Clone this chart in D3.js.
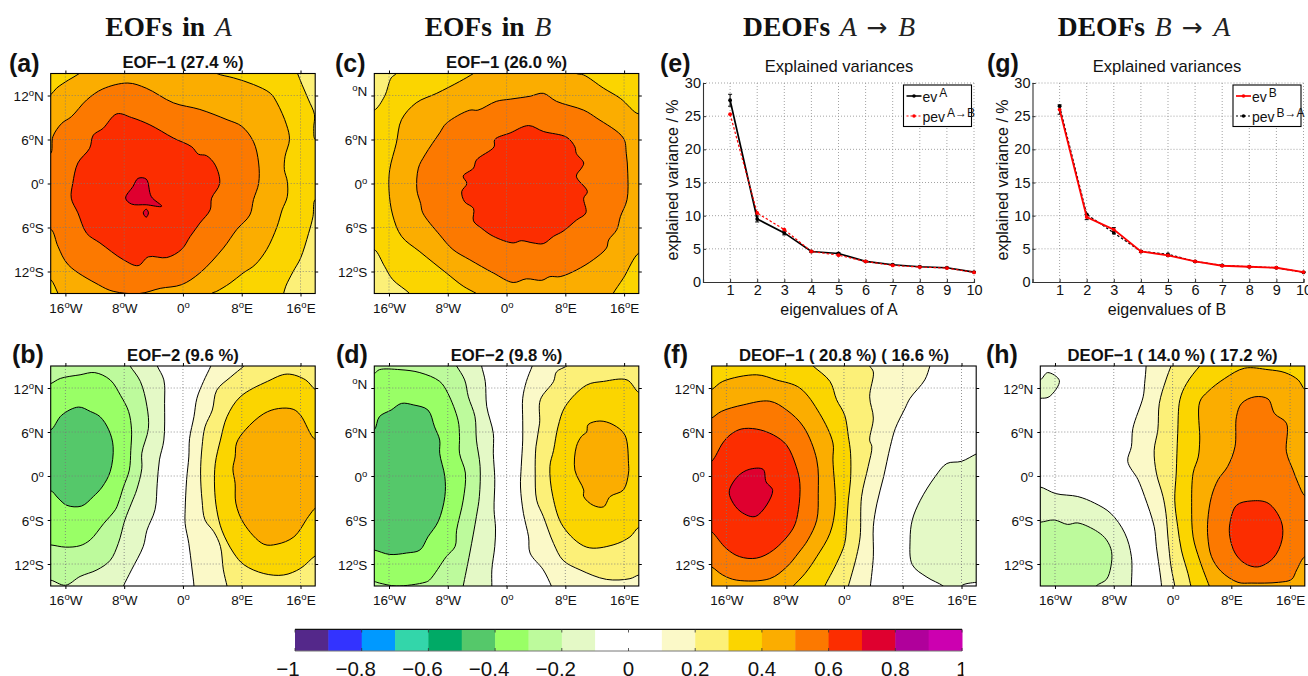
<!DOCTYPE html>
<html><head><meta charset="utf-8">
<script src="https://d3js.org/d3.v7.min.js"></script>
<style>
html,body{margin:0;padding:0;background:#fff;overflow:hidden}
text{font-family:"Liberation Sans",Arial,sans-serif;fill:#111}
.big{font-family:"Liberation Serif",serif;font-weight:bold;font-size:27.5px;word-spacing:3px}
.big .m{font-weight:normal;font-style:italic;fill:#222}
.big .a{font-weight:normal;fill:#222;font-family:"DejaVu Sans",sans-serif;font-size:25px}
</style></head><body><svg id="c" width="1308" height="676"></svg>
<script>
// ---- colour scale (bins of 0.1 from -1 to 1)
const binColors=["#54288a","#3333ff","#0099ff","#33d6aa","#00aa66","#55c86a","#99ff66","#bdfa9c","#e4f9c6","#ffffff","#ffffff","#fbf9c8","#fcf078","#fbd500","#fbad00","#fc7900","#fc2d00","#df002f","#b0009b","#cc00b0"];
const colorTicks=[-1,-0.8,-0.6,-0.4,-0.2,0,0.2,0.4,0.6,0.8,1];
const lonTicks=[-16,-8,0,8,16];
const latTicks=[12,6,0,-6,-12];
const latLabels=[["12","N"],["6","N"],["0",""],["6","S"],["12","S"]];
const latLabelsCut=[["","N"],["6","N"],["0",""],["6","S"],["12","S"]];

// ---- explained variances
const eigen=[1,2,3,4,5,6,7,8,9,10];
const evA=[27.4,9.5,7.4,4.6,4.3,3.1,2.6,2.3,2.15,1.5];
const evAerr=[0.9,0.45,0.3,0.15,0.12,0.1,0.08,0.07,0.06,0.05];
const pevAB=[25.3,10.4,7.9,4.6,4.05,3.1,2.5,2.25,2.1,1.45];
const evB=[26,9.8,7.9,4.6,4.0,3.1,2.45,2.3,2.15,1.5];
const evBerr=[0.7,0.4,0.3,0.15,0.12,0.1,0.08,0.07,0.06,0.05];
const pevBA=[26.5,10.2,7.4,4.6,4.2,3.1,2.5,2.3,2.15,1.45];

// ---- contour bands: [value inside band, ring of [lon,lat]]
const contoursA=[
[0.25,[[15.2,16],[15.6,15],[16.2,13.5],[17.1,11.4],[17.9,9.4],[17.8,7.5],[18,6],[19,6],[19,16]]],
[0.25,[[18,-2.2],[17.7,-4.5],[17.1,-6.8],[16,-10.2],[15,-12],[14,-14],[13.7,-15],[13.4,-16],[19,-16],[19,-2.2]]],
[0.45,[[-13,16],[-14.1,15],[-15.6,14.1],[-17.2,13],[-18,12.1],[-19,11.5],[-19,-12.7],[-18,-13.1],[-17,-15],[-16.5,-16],[3.4,-16],[3.9,-15],[4.6,-14.7],[6.4,-13.6],[8.2,-12.2],[9.8,-11.1],[11.4,-9],[12.8,-5.9],[13.5,-3.6],[14.2,-1.8],[14.2,0.3],[13.8,1.9],[13.9,3.7],[14.5,6],[14.1,8],[12.8,11],[11.9,12.3],[9.6,13.5],[6.9,14.4],[4.6,15],[3,16]]],
[0.55,[[-18,4.1],[-17.7,6.4],[-16.5,8.2],[-15.2,9.1],[-13.1,11.4],[-10.9,12.9],[-7.5,13.7],[-5,13],[-1.3,11],[2.3,10.1],[6,8.7],[8,7.8],[9.6,5.7],[10.3,2.8],[10.3,0],[9.6,-2.2],[9.1,-4.3],[7.3,-6.3],[5.5,-8.8],[2.3,-12.2],[-0.2,-13.8],[-3.1,-14.3],[-5.9,-15],[-9.5,-14.7],[-11.5,-13.8],[-15.6,-11.1],[-17,-8.6],[-17.9,-6.3],[-19,-6],[-19,4]]],
[0.65,[[-15,0],[-14.3,2.8],[-12.7,4.8],[-12.2,6.6],[-10.9,7.5],[-9,9.5],[-7,9],[-4.5,8],[-1.3,6.2],[1.2,5],[2.1,4],[3.2,3.8],[4.4,2.5],[5,0],[3.9,-2],[3.7,-3.6],[2.3,-5.4],[1,-7.2],[-0.2,-9],[-2.2,-10.1],[-4.7,-10],[-6.1,-11.2],[-8.1,-10.4],[-11.3,-8.1],[-13.1,-6.8],[-14.3,-4],[-15.2,-2]]],
[0.75,[[-7.8,-2],[-6.8,-0.4],[-6.1,0.7],[-5,0.6],[-4.3,-1.8],[-2.9,-3.1],[-5,-2.9],[-7,-2.8]]],
[0.75,[[-5,-3.5],[-4.7,-4],[-5,-4.6],[-5.4,-4]]]];

const contoursB=[
[-0.15,[[-3.5,15],[-2.6,13.1],[-2.5,9.9],[-2.6,4.9],[-3.2,2.2],[-3.5,-1],[-3.8,-4.6],[-4.9,-7.4],[-5.4,-9.6],[-7,-12.8],[-8.1,-15],[-8.5,-16],[-19,-16],[-19,16],[-3.9,16]]],
[-0.25,[[-7.2,15],[-5.8,12.9],[-4.9,9.5],[-4.7,6.5],[-5.6,3.1],[-5.6,1],[-6.3,-1.9],[-7,-3.7],[-7.9,-6],[-8.8,-9.2],[-9.9,-11.5],[-11.7,-12.8],[-14,-13.7],[-16,-14.9],[-18,-14.2],[-19,-14.2],[-19,16],[-7.8,16]]],
[-0.35,[[-18,12.6],[-16.7,13.3],[-14,13.8],[-12,14.1],[-9.9,13.1],[-8.5,11],[-7.4,8.8],[-7,6.3],[-7.1,3.5],[-7.3,0.8],[-8.1,-1.5],[-8.8,-3.7],[-9.2,-4.6],[-10.8,-6.5],[-12.6,-8.7],[-14,-9.5],[-16,-9.7],[-18,-9.4],[-19,-9.4],[-19,12.4]]],
[-0.45,[[-18,6.3],[-16.5,8.3],[-14.2,9.4],[-12.6,8.8],[-11.3,8.1],[-10.1,6.3],[-9.5,4],[-9.9,0.6],[-11,-1.5],[-12.2,-2.8],[-13.8,-4.1],[-15.8,-4],[-17,-3],[-18,-2],[-19,-2.3],[-19,6.5]]],
[0.15,[[3.8,15],[2.8,12.9],[1.9,10.6],[1.5,8.1],[0.9,5.1],[0.8,2.6],[0.5,-0.5],[0.3,-4.6],[0.3,-6.5],[0.8,-9.2],[1.2,-12.4],[1.5,-15],[1.5,-16],[19,-16],[19,16],[4.2,16]]],
[0.25,[[8.3,15],[6.5,13.5],[4.6,11.7],[4,9],[3,6.7],[2.6,4],[2.4,0.4],[2.6,-3.3],[3,-6],[4.2,-7.6],[5.1,-9.6],[5.5,-12.8],[6,-15],[6.2,-16],[19,-16],[19,16],[9.3,16]]],
[0.35,[[18,11.8],[16.7,13.1],[14.2,13.9],[11.5,12.9],[7.8,10.8],[6,8.1],[5.1,4.9],[4.4,1.7],[4.3,-1.5],[4.6,-4.6],[5.3,-7.4],[6.9,-10.5],[8.3,-12.1],[11,-13.3],[13.7,-13.5],[16,-12.6],[18,-10.9],[19,-10.5],[19,11.5]]],
[0.45,[[18,5],[16,8.3],[15,9.1],[13,9.2],[11,8.5],[8.5,6.3],[7.3,4.5],[7.1,2.6],[6.8,1],[7.1,-1],[7.2,-3.7],[8.3,-6.5],[11,-9.3],[12.8,-9.3],[15.1,-8.3],[17.1,-5.5],[18,-4.4],[19,-4],[19,5.4]]]];

const contoursC=[
[0.25,[[-18,10],[-16.6,11.9],[-15.7,14.4],[-15,15],[-14.5,16],[-19,16],[-19,10]]],
[0.25,[[-18,-9],[-16.6,-11.3],[-15.5,-13.1],[-13.2,-15],[-12.5,-16],[-19,-16],[-19,-9]]],
[0.45,[[-4.5,15],[-6.4,13.9],[-9.5,12.3],[-12.3,11],[-14.3,8.7],[-15,5.5],[-15.9,1.9],[-16,-0.9],[-15.5,-4.3],[-14.3,-7.2],[-11.8,-9.3],[-8.2,-12.2],[-5.9,-14],[-4.1,-15],[-2.5,-16],[14,-16],[14.5,-15],[15.9,-12.9],[18,-9.5],[19,-9.5],[19,10.2],[18,9.5],[15.5,11.6],[13.2,13],[10.5,14.8],[9.5,15],[8,16],[-3,16]]],
[0.55,[[5,12.3],[6.8,11.2],[10.5,10],[12.3,8.9],[15.9,6.2],[16.3,4.1],[16.5,1.4],[16.4,-2.2],[15.5,-4.5],[15,-6.3],[13.9,-7.7],[13.6,-8.8],[11.8,-10.4],[9.5,-11.8],[7.3,-12.7],[5.9,-12.7],[4.8,-13.2],[2.7,-13],[0.9,-13.5],[-1.8,-12.2],[-5,-10.4],[-7.3,-9],[-9.1,-7],[-11.4,-4],[-11.7,-2.7],[-12.2,-0.9],[-12,2.1],[-11.1,3.9],[-9.1,6.9],[-8.2,8.2],[-5,10],[-3.9,10],[-1.4,11.2],[0.5,11.5],[3.2,11.9]]],
[0.65,[[-1.6,6],[0.5,6.9],[3,7.9],[5,7.1],[8.2,6.3],[9.3,5],[9.5,4.1],[10.5,2.8],[10.2,2.1],[9.5,1],[11,-1.1],[10.5,-2],[10.8,-4],[9.5,-5],[7.7,-6.5],[6.4,-7.2],[5,-8.2],[3.6,-8.1],[2,-7.8],[0.9,-8.1],[-1.8,-7.2],[-3.4,-6.1],[-4.5,-5.1],[-4.5,-3.4],[-5.7,-2.5],[-6.1,-1.1],[-5.4,0],[-5.9,1],[-4.5,2.1],[-4.1,3.2],[-1.7,5]]]];

const contoursD=[
[-0.15,[[-3.4,15],[-2.9,12.9],[-2.7,9.5],[-1.8,5.8],[-1.8,3.1],[-1.6,-0.5],[-1.7,-4.6],[-1.5,-7.1],[-1.6,-9.6],[-2,-12.8],[-2,-15],[-2,-16],[-19,-16],[-19,16],[-3.6,16]]],
[-0.25,[[-6.8,15],[-5.7,13.1],[-5.2,10.8],[-4.3,8.1],[-4.1,4.9],[-3.6,1.3],[-3.7,-2.8],[-4.1,-5.5],[-5,-10.5],[-5.9,-15],[-6.1,-16],[-19,-16],[-19,16],[-7.4,16]]],
[-0.35,[[-18,14],[-17.3,14.5],[-14.5,14.5],[-11.8,14.1],[-9.1,12.9],[-8,11.3],[-6.6,7.6],[-6.4,5.4],[-6.4,3.1],[-5.6,0.4],[-5.9,-3.3],[-6.8,-7.4],[-7,-9.6],[-8.2,-11],[-10.5,-14.2],[-11.1,-14.5],[-15,-15],[-17.3,-14.6],[-18,-14.4],[-19,-14.4],[-19,14]]],
[-0.45,[[-18,6.3],[-17.3,8.1],[-15.7,9],[-14.3,9.9],[-12.7,9.7],[-10.7,9],[-9.8,6.7],[-9.1,4.9],[-9.1,3.1],[-8.4,-0.1],[-8.4,-2.8],[-9.3,-6.2],[-10.7,-8.3],[-11.8,-10.1],[-13.6,-10.5],[-15.9,-10.7],[-18,-10.1],[-19,-10],[-19,6]]],
[0.15,[[3.5,15],[2.7,12.9],[2.2,10.6],[2.2,7.6],[2.2,4.9],[2,1.3],[1.9,-1.5],[2.3,-5.1],[3,-8.3],[3.2,-10.5],[5,-12.8],[6.1,-15],[6.5,-16],[19,-16],[19,16],[3.9,16]]],
[0.25,[[8.2,15],[6.8,14.2],[6.4,12.9],[4.6,10.4],[4.5,7.2],[4,4],[3.9,0.4],[4.1,-3.3],[5,-5.5],[6.4,-9.2],[7.7,-11.5],[10,-12.8],[13.6,-14.1],[16.8,-14],[18,-13.5],[19,-13.5],[19,16],[9.5,16]]],
[0.35,[[18,11.4],[16.4,13.1],[13.2,12.9],[10.9,12.4],[8,9.5],[7,6.7],[6.4,3.5],[5.9,1.3],[6.3,-2.8],[7.7,-6.9],[10.9,-9.7],[14.5,-9.4],[16.8,-8.3],[18,-7],[19,-7],[19,11.4]]],
[0.45,[[11.1,7],[12.7,7.5],[14.5,7],[16.1,5.6],[16.6,1.7],[16.6,0.4],[15.9,-1.9],[14.1,-2.8],[13.2,-4.2],[11.8,-4],[10.5,-2.8],[10.5,-1.9],[9.3,0.8],[9.5,4],[10.2,5.4],[10.9,6]]]];

const contoursF=[
[0.15,[[11.7,15],[11,13.1],[9,10.6],[8.3,9.2],[7,6.5],[6.3,4],[5.4,-0.1],[4.5,-3.7],[4,-6.9],[4,-11],[3.6,-15],[3.5,-16],[-19,-16],[-19,16],[12,16]]],
[0.25,[[3.5,15],[4,14.2],[3.5,10.8],[4,7.9],[3.5,4.9],[3.8,4],[3.3,1.3],[2.4,-2.8],[2.2,-8.3],[1.7,-11],[0.6,-15],[0.3,-16],[-19,-16],[-19,16],[3,16]]],
[0.35,[[-4.2,15],[-1.9,12.9],[-1,10.4],[0.1,8.3],[0.6,5.4],[0.9,3.1],[0.9,-0.5],[0.6,-3.3],[0.4,-6],[0.1,-9.2],[-1,-11.9],[-2.6,-15],[-3,-16],[-19,-16],[-19,16],[-5.2,16]]],
[0.45,[[-18,11.8],[-16.5,12.9],[-11.9,13.8],[-9.2,13.1],[-6,12],[-3.3,8.5],[-1.5,4.5],[-1.5,2.2],[-1.2,-4.2],[-1.9,-7.8],[-3.7,-11],[-5.3,-13.3],[-6.9,-15],[-7.8,-16],[-19,-16],[-19,11.5]]],
[0.55,[[-18,7.9],[-16.7,8.8],[-13.7,9.7],[-10.1,10.2],[-7.8,9],[-5.5,6.7],[-3.7,2.2],[-3.5,-2.4],[-3.7,-6],[-4.9,-8.7],[-6.2,-10.5],[-7.8,-12.4],[-10.1,-14],[-14.6,-14.2],[-16.5,-13.5],[-18,-12.4],[-19,-12],[-19,7.5]]],
[0.65,[[-18,2],[-16.5,4.5],[-15.5,5.6],[-14,6.4],[-11.9,6.4],[-9.6,5.6],[-7.8,4.2],[-6.5,1.3],[-6,-1],[-6.2,-4.6],[-6.9,-7.1],[-9.6,-10.1],[-11.9,-11.2],[-14.2,-11],[-16,-9.9],[-18,-7.6],[-19,-7],[-19,1.5]]],
[0.75,[[-15.6,-2],[-14.4,0],[-12.9,0.9],[-11,0.9],[-10.6,-0.8],[-9.7,-2],[-12,-5.5],[-14,-4.9],[-15.3,-3.3]]],
[-0.15,[[18,3],[16,2],[14,1.7],[12.4,-0.1],[10.4,-3.3],[9.3,-6],[9,-8.7],[9.3,-12.1],[11.3,-13.8],[13.5,-15],[14.5,-16],[16,-16],[16,-15],[18,-14.5],[19,-14.5],[19,3.4]]]];

const contoursH=[
[-0.15,[[-18,13.1],[-17,14.1],[-15.4,13],[-16.8,10.8],[-18,10.6],[-19,10.6],[-19,13]]],
[-0.15,[[-18,-1.5],[-15.9,-2.4],[-12.9,-2.8],[-10.6,-3.7],[-8.4,-5.1],[-6.5,-7.8],[-5.6,-11],[-5.6,-15],[-5.6,-16],[-19,-16],[-19,-1.5]]],
[-0.25,[[-18,-6.3],[-16.1,-6],[-14.3,-6.6],[-12.9,-6.4],[-10.2,-7.6],[-9,-8.7],[-8.3,-10.3],[-8.4,-12.4],[-9,-14.1],[-10.4,-15],[-11,-16],[-19,-16],[-19,-6.3]]],
[0.15,[[-3.6,15],[-3.8,12.6],[-4,10.8],[-5.4,6.5],[-5.6,4],[-6.1,2],[-4.7,-0.5],[-3.8,-2.8],[-2.5,-6.9],[-2.2,-9.6],[-1.5,-15],[-1.5,-16],[19,-16],[19,16],[-3.6,16]]],
[0.25,[[-0.2,15],[-0.9,13.1],[-1.8,9.9],[-2,6.3],[-2.5,3.5],[-2.2,0.4],[-1.3,-2.8],[-0.9,-5.1],[-0.6,-8.7],[-0.2,-12.4],[0.3,-15],[0.4,-16],[19,-16],[19,16],[0.2,16]]],
[0.35,[[3.7,15],[1.9,12.6],[1,10.4],[0.7,5.8],[0.5,0.4],[0.3,-3.3],[0.7,-6.9],[1.2,-10.1],[2.1,-13.3],[2.5,-15],[2.8,-16],[19,-16],[19,16],[4.7,16]]],
[0.45,[[18,11.8],[17.1,13.1],[15.3,14.1],[13,14.5],[9.8,14.7],[7.1,13.3],[4.8,11.5],[3.7,10.1],[3.7,4.9],[3.5,2.6],[2.8,0.4],[2.6,-4.2],[2.8,-8.3],[3.7,-11.5],[5,-15],[5.4,-16],[19,-16],[19,11.5]]],
[0.55,[[11.2,10.8],[13,10.5],[13.9,8.5],[15.5,7.2],[15.5,3.3],[16.4,0.8],[17.1,-1],[18,-2.7],[19,-3],[19,-11],[18,-11],[16.9,-12.8],[16.2,-14.1],[14.4,-14.5],[10.7,-14.6],[8.9,-14.5],[6.6,-13],[5.3,-11],[4.8,-8.3],[4.8,-6],[5.3,-2.8],[6.2,-0.5],[7.5,1.3],[8.5,4],[8.7,8.1],[9.4,9.9]]],
[0.65,[[7.8,-6.5],[8.7,-4],[10.7,-3.4],[13,-3.7],[14.8,-6.2],[14.9,-8.7],[13.7,-11.2],[11.6,-12.4],[9.8,-11.9],[8.5,-10.5],[7.8,-8.3]]]];

const svg=d3.select("#c");
const color=d3.scaleQuantize().domain([-1,1]).range(binColors);

function bigTitle(cx,parts){
  const t=svg.append("text").attr("class","big").attr("x",cx).attr("y",36).attr("text-anchor","middle");
  parts.forEach(p=>t.append("tspan").attr("class",p[1]).attr("xml:space","preserve").text(p[0]));
}
bigTitle(168.5,[["EOFs in ",""],["A","m"]]);
bigTitle(488,[["EOFs in ",""],["B","m"]]);
bigTitle(829,[["DEOFs ",""],["A ","m"],["\u2192 ","a"],["B","m"]]);
bigTitle(1144,[["DEOFs ",""],["B ","m"],["\u2192 ","a"],["A","m"]]);

function panelLabel(x,y,s){
  svg.append("text").attr("x",x).attr("y",y).attr("font-size",25).attr("font-weight","bold").text(s);
}
function degLabel(sel,num,suf){
  sel.text(null);
  if(num!=="") sel.append("tspan").text(num);
  sel.append("tspan").attr("dy",-5).attr("font-size",9.5).text("o");
  if(suf) sel.append("tspan").attr("dy",5).text(suf);
}
let clipId=0;
function mapPanel(o){
  const x=d3.scaleLinear().domain([-18,18]).range([o.x0,o.x0+264.5]);
  const y=d3.scaleLinear().domain([-15,15]).range([o.y0+220,o.y0]);
  const g=svg.append("g");
  const id="clip"+(clipId++);
  g.append("clipPath").attr("id",id).append("rect").attr("x",o.x0).attr("y",o.y0).attr("width",264.5).attr("height",220);
  const inner=g.append("g").attr("clip-path",`url(#${id})`);
  inner.append("rect").attr("x",o.x0).attr("y",o.y0).attr("width",264.5).attr("height",220).attr("fill",color(o.base));
  const line=d3.line().x(d=>x(d[0])).y(d=>y(d[1])).curve(d3.curveCatmullRomClosed.alpha(0.5));
  inner.selectAll("path.b").data(o.bands).join("path").attr("class","b")
    .attr("d",d=>line(d[1])).attr("fill",d=>color(d[0])).attr("stroke","#000").attr("stroke-width",1);
  inner.selectAll("line.gx").data(lonTicks).join("line").attr("class","gx")
    .attr("x1",d=>x(d)).attr("x2",d=>x(d)).attr("y1",o.y0).attr("y2",o.y0+220)
    .attr("stroke","#7a7a7a").attr("stroke-width",0.8).attr("stroke-dasharray","1,2");
  inner.selectAll("line.gy").data(latTicks).join("line").attr("class","gy")
    .attr("y1",d=>y(d)).attr("y2",d=>y(d)).attr("x1",o.x0).attr("x2",o.x0+264.5)
    .attr("stroke","#7a7a7a").attr("stroke-width",0.8).attr("stroke-dasharray","1,2");
  g.append("rect").attr("x",o.x0).attr("y",o.y0).attr("width",264.5).attr("height",220)
    .attr("fill","none").attr("stroke","#000").attr("stroke-width",1.1);
  // axes
  const ax=g.append("g").attr("transform",`translate(0,${o.y0+220})`)
    .call(d3.axisBottom(x).tickValues(lonTicks).tickSize(3).tickPadding(3));
  ax.select(".domain").remove();
  ax.selectAll("text").attr("font-size",13.5).attr("font-family","Liberation Sans").attr("fill","#111").attr("dy",13)
    .each(function(d){degLabel(d3.select(this),Math.abs(d),d<0?"W":d>0?"E":"");});
  const ay=g.append("g").attr("transform",`translate(${o.x0},0)`)
    .call(d3.axisLeft(y).tickValues(latTicks).tickSize(3).tickPadding(4));
  ay.select(".domain").remove();
  ay.selectAll("text").attr("font-size",13.5).attr("font-family","Liberation Sans").attr("fill","#111").attr("dy",5)
    .each(function(d,i){degLabel(d3.select(this),o.latLabels[i][0],o.latLabels[i][1]);});
  const top=g.append("g").attr("transform",`translate(0,${o.y0})`).call(d3.axisTop(x).tickValues(lonTicks).tickSize(3).tickFormat(""));
  top.select(".domain").remove();
  const right=g.append("g").attr("transform",`translate(${o.x0+264.5},0)`).call(d3.axisRight(y).tickValues(latTicks).tickSize(3).tickFormat(""));
  right.select(".domain").remove();
  svg.append("text").attr("x",x(0)).attr("y",o.ty).attr("text-anchor","middle")
    .attr("font-size",16.7).attr("font-weight","bold").text(o.title);
}
const rowTop=73.5,rowBot=366;
mapPanel({x0:50.7,y0:rowTop,ty:68,bands:contoursA,base:0.35,title:"EOF\u22121 (27.4 %)",latLabels});
mapPanel({x0:50.7,y0:rowBot,ty:361,bands:contoursB,base:0,title:"EOF\u22122 (9.6 %)",latLabels});
mapPanel({x0:374.3,y0:rowTop,ty:68,bands:contoursC,base:0.35,title:"EOF\u22121 (26.0 %)",latLabels:latLabelsCut});
mapPanel({x0:374.3,y0:rowBot,ty:361,bands:contoursD,base:0,title:"EOF\u22122 (9.8 %)",latLabels:latLabelsCut});
mapPanel({x0:711.7,y0:rowBot,ty:361,bands:contoursF,base:0,title:"DEOF\u22121 ( 20.8 %) ( 16.6 %)",latLabels});
mapPanel({x0:1040.3,y0:rowBot,ty:361,bands:contoursH,base:0,title:"DEOF\u22121 ( 14.0 %) ( 17.2 %)",latLabels});

panelLabel(9,72,"(a)");panelLabel(12,363,"(b)");panelLabel(335,72,"(c)");panelLabel(336,363,"(d)");
panelLabel(660,72,"(e)");panelLabel(663,363,"(f)");panelLabel(987,72,"(g)");panelLabel(986,363,"(h)");

function varPanel(o){
  const x=d3.scaleLinear().domain([0,10]).range([o.x0,o.x0+271]);
  const y=d3.scaleLinear().domain([0,30]).range([282,83]);
  const g=svg.append("g");
  g.append("g").selectAll("line").data(eigen).join("line")
    .attr("x1",d=>x(d)).attr("x2",d=>x(d)).attr("y1",83).attr("y2",282)
    .attr("stroke","#999").attr("stroke-width",0.9).attr("stroke-dasharray","1,2");
  g.append("g").selectAll("line").data([5,10,15,20,25,30]).join("line")
    .attr("y1",d=>y(d)).attr("y2",d=>y(d)).attr("x1",o.x0).attr("x2",o.x0+271)
    .attr("stroke","#999").attr("stroke-width",0.9).attr("stroke-dasharray","1,2");
  const ax=g.append("g").attr("transform","translate(0,282)")
    .call(d3.axisBottom(x).tickValues(eigen).tickSize(-3).tickPadding(3));
  const ay=g.append("g").attr("transform",`translate(${o.x0},0)`)
    .call(d3.axisLeft(y).tickValues([0,5,10,15,20,25,30]).tickSize(-3).tickPadding(2));
  [ax,ay].forEach(a=>{a.selectAll("text").attr("font-size",14.5).attr("font-family","Liberation Sans").attr("fill","#111");
    a.select(".domain").attr("stroke","#333").attr("stroke-width",1.1);a.selectAll("line").attr("stroke","#333");});
  const ln=d3.line().x((d,i)=>x(eigen[i])).y(d=>y(d));
  function series(vals,col,w,dash,r){
    g.append("path").attr("d",ln(vals)).attr("fill","none").attr("stroke",col).attr("stroke-width",w).attr("stroke-dasharray",dash);
    g.append("g").selectAll("circle").data(vals).join("circle").attr("cx",(d,i)=>x(eigen[i])).attr("cy",d=>y(d)).attr("r",r).attr("fill",col);
  }
  function errs(vals,err,col){
    const e=g.append("g").attr("stroke",col).attr("stroke-width",1);
    vals.forEach((v,i)=>{
      e.append("line").attr("x1",x(eigen[i])).attr("x2",x(eigen[i])).attr("y1",y(v-err[i])).attr("y2",y(v+err[i]));
      [v-err[i],v+err[i]].forEach(w=>e.append("line").attr("x1",x(eigen[i])-2).attr("x2",x(eigen[i])+2).attr("y1",y(w)).attr("y2",y(w)));
    });
  }
  o.draw(series,errs);
  // legend
  const lx=o.x0+200.5,ly=85;
  const l=g.append("g").attr("transform",`translate(${lx},${ly})`);
  l.append("rect").attr("width",68).attr("height",41.5).attr("fill","#fff").attr("stroke","#000").attr("stroke-width",1.1);
  [[o.leg[0],11],[o.leg[1],31]].forEach(([it,yy])=>{
    l.append("line").attr("x1",3).attr("x2",18).attr("y1",yy).attr("y2",yy).attr("stroke",it.c).attr("stroke-width",it.w).attr("stroke-dasharray",it.d);
    l.append("circle").attr("cx",10.5).attr("cy",yy).attr("r",1.8).attr("fill",it.c);
    const t=l.append("text").attr("x",19).attr("y",yy+5.5).attr("font-size",14);
    t.append("tspan").text(it.n);
    t.append("tspan").attr("dx",2).attr("dy",-5).attr("font-size",12).text(it.s);
  });
  svg.append("text").attr("x",o.tx).attr("y",72).attr("text-anchor","middle").attr("font-size",16.6).text("Explained variances");
  svg.append("text").attr("x",o.tx).attr("y",315).attr("text-anchor","middle").attr("font-size",16).text(o.xl);
  svg.append("text").attr("transform",`translate(${o.yl},180) rotate(-90)`).attr("text-anchor","middle").attr("font-size",16).text("explained variance / %");
}
varPanel({x0:703,tx:839,yl:678,xl:"eigenvalues of A",
  leg:[{c:"#000",w:1.6,d:null,n:"ev",s:"A"},{c:"#f00",w:1.1,d:"2,2",n:"pev",s:"A\u2192B"}],
  draw:(s,e)=>{e(evA,evAerr,"#000");s(evA,"#000",1.7,null,1.9);s(pevAB,"#f00",1.2,"2.5,2",1.9);}});
varPanel({x0:1032.5,tx:1167,yl:1008,xl:"eigenvalues of B",
  leg:[{c:"#f00",w:1.7,d:null,n:"ev",s:"B"},{c:"#000",w:1.2,d:"2,2",n:"pev",s:"B\u2192A"}],
  draw:(s,e)=>{e(evB,evBerr,"#000");s(pevBA,"#000",1.2,"2.5,2",1.9);s(evB,"#f00",1.8,null,1.9);}});

// colour bar
const cb=d3.scaleLinear().domain([-1,1]).range([295,962]);
const cbBins=d3.range(20);
svg.append("g").selectAll("rect").data(cbBins).join("rect")
  .attr("x",i=>cb(-1+i*0.1)).attr("width",i=>cb(-0.9)-cb(-1)+0.5).attr("y",629.5).attr("height",21.5)
  .attr("fill",i=>binColors[i]);
svg.append("line").attr("x1",295).attr("x2",962).attr("y1",629.3).attr("y2",629.3).attr("stroke","#111").attr("stroke-width",1.2);
svg.append("line").attr("x1",295).attr("x2",962).attr("y1",651).attr("y2",651).attr("stroke","#777").attr("stroke-width",1);
svg.append("g").selectAll("line").data(colorTicks).join("line")
  .attr("x1",d=>cb(d)).attr("x2",d=>cb(d)).attr("y1",629.5).attr("y2",651).attr("stroke","#333").attr("stroke-width",0.8).attr("stroke-dasharray","3,15.5");
svg.append("clipPath").attr("id","cbclip").append("rect").attr("x",260).attr("y",650).attr("width",703.5).attr("height",30);
svg.append("g").attr("clip-path","url(#cbclip)").selectAll("text").data(colorTicks).join("text")
  .attr("x",d=>cb(d)+(d===-1?-7:d<0?-6:0)).attr("y",675.5).attr("text-anchor","middle").attr("font-size",20.5)
  .text(d=>String(d).replace("-","\u2212"));
</script></body></html>
